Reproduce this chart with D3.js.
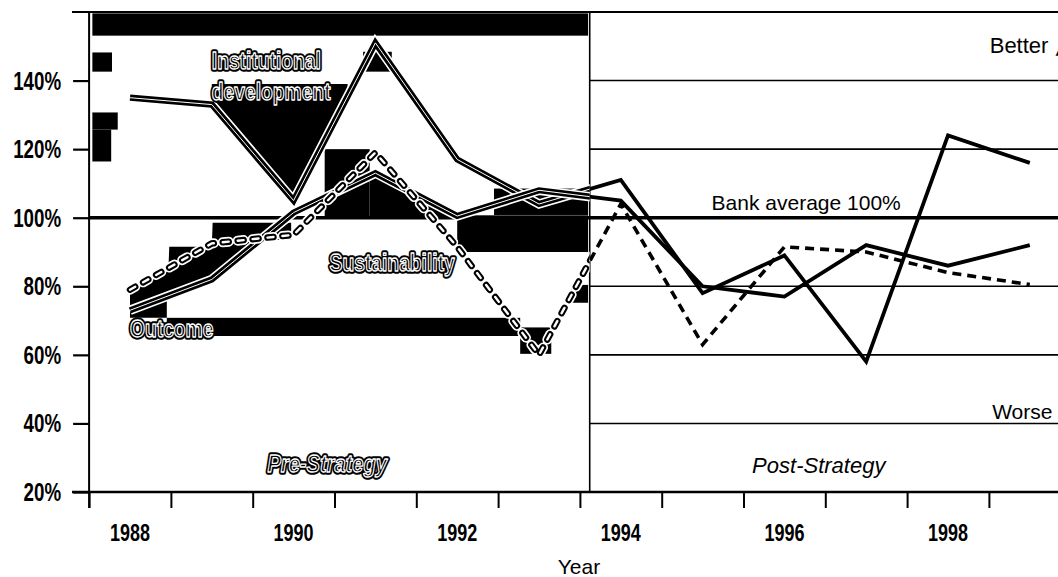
<!DOCTYPE html>
<html><head><meta charset="utf-8">
<script src="https://cdn.jsdelivr.net/npm/d3@7"></script>
<style>
html,body{margin:0;padding:0;background:#fff;}
svg{display:block;}
</style></head><body>
<svg id="chart" width="1058" height="577"></svg>
<script>
// ---------------- data ----------------
const years = [1988,1989,1990,1991,1992,1993,1994,1995,1996,1997,1998,1999];
const institutional = [135,133,105,151,117,104,111,78,89,58,124,116];
const outcome = [73,82,101.5,113,100.5,108,105,80,77,92,86,92];
const sustainability = [79,92.5,95,119,91.5,60,104,63,91.5,90,84,80.5];
const yTicks = [20,40,60,80,100,120,140];
const gridValues = [40,60,80,120,140];
const yearLabels = [1988,1990,1992,1994,1996,1998];
const yearBoundaries = [1987.5,1988.5,1989.5,1990.5,1991.5,1992.5,1993.5,1994.5,1995.5,1996.5,1997.5,1998.5];
const strategyYear = 1993.62;
const bankAverage = 100;
// scanned shading blotches of the Pre-Strategy panel: [year0, year1, pct0, pct1]
const shadeRects = [
  [1987.54,1993.6,153.1,159.6],
  [1987.54,1987.78,142.6,148.2],
  [1987.54,1987.85,125.7,130.7],
  [1987.54,1987.77,116.4,125.7],
  [1990.85,1991.2,142.6,148.4],
  [1990.38,1990.93,100.5,120],
  [1992.0,1993.6,90,100.7],
  [1992.45,1993.6,100.8,108.5],
  [1988.45,1992.77,65.5,70.8],
  [1992.77,1993.15,60.3,68],
  [1993.4,1993.6,75.2,80.4]
];

// ---------------- setup ----------------
const svg = d3.select("#chart");
const x = d3.scaleLinear().domain([1988,1999]).range([130,1029.8]);
const y = d3.scaleLinear().domain([20,160]).range([492,12]);
const W = 1058;
const xAxis0 = x(1987.5), xDiv = x(strategyYear);
const SANS = "'Liberation Sans',Arial,'DejaVu Sans',sans-serif";

function interp(series, t){
  const i = Math.max(0, Math.min(series.length-2, Math.floor(t-years[0])));
  const f = t - years[i];
  return series[i] + (series[i+1]-series[i])*f;
}
const defs = svg.append("defs");
defs.append("clipPath").attr("id","clipL").append("rect")
  .attr("x", xAxis0).attr("y", y(160)).attr("width", xDiv-xAxis0).attr("height", y(20)-y(160));
defs.append("clipPath").attr("id","clipR").append("rect")
  .attr("x", xDiv).attr("y", y(160)-5).attr("width", W-xDiv).attr("height", y(20)-y(160)+5);

// condensed text: Liberation Sans squeezed horizontally
function narrowText(parent, txt, px, py, anchor, size, opts={}){
  const sx = opts.scale || 0.82;
  const g = parent.append("g").attr("transform",`translate(${px},${py}) scale(${sx},1)`);
  const layers = opts.halo ? [{stroke:"#000", sw:5.5},{stroke:"#fff", sw:1.3}] : [null];
  layers.forEach(st=>{
    const t = g.append("text").attr("x",0).attr("y",0).attr("text-anchor",anchor)
      .attr("font-family",SANS).attr("font-weight",opts.weight||"bold").attr("font-size",size)
      .attr("font-style", opts.italic ? "italic" : "normal").attr("fill","#000").text(txt);
    if(st) t.attr("stroke",st.stroke).attr("stroke-width",st.sw).attr("stroke-linejoin","round");
  });
  return g;
}

// ---------------- shading (left panel) ----------------
const shade = svg.append("g").attr("clip-path","url(#clipL)");
shade.selectAll("rect").data(shadeRects).join("rect")
  .attr("x", d=>x(d[0])).attr("width", d=>x(d[1])-x(d[0]))
  .attr("y", d=>y(d[3])).attr("height", d=>y(d[2])-y(d[3]))
  .attr("fill","#000");

function sampled(a,b){ const s=[]; for(let t=a;t<=b+1e-9;t+=0.01) s.push(t); return s; }
const area = d3.area().x(d=>x(d.t)).y0(d=>y(d.lo)).y1(d=>y(d.hi));
shade.append("path").attr("fill","#000").attr("d",
  area(sampled(1989,1990.66).map(t=>({t, lo:interp(institutional,t), hi:139}))));
shade.append("path").attr("fill","#000").attr("d",
  area(sampled(1990.93,1992).map(t=>({t, lo:100.5, hi:interp(outcome,t)}))));
shade.append("path").attr("fill","#000").attr("d",
  area(sampled(1988,1989.97).map(t=>{
    const o = interp(outcome,t);
    const hi = t<1988.47 ? interp(sustainability,t) : (t<1989 ? 91.5 : 98.5);
    const lo = t<1989 ? o : Math.min(o,93.6);
    return {t, lo, hi:Math.max(hi,lo)};
  })));
shade.append("path").attr("fill","#000").attr("d",
  area(sampled(1988,1988.45).map(t=>({t, lo:70.8, hi:interp(outcome,t)}))));

// ---------------- grid / frame ----------------
const frame = svg.append("g");
frame.selectAll("line.grid").data(gridValues).join("line")
  .attr("x1", xDiv).attr("x2", W).attr("y1", d=>y(d)).attr("y2", d=>y(d))
  .attr("stroke","#000").attr("stroke-width",1.6);
frame.append("line").attr("x1", xAxis0).attr("x2", W)
  .attr("y1", y(bankAverage)).attr("y2", y(bankAverage))
  .attr("stroke","#000").attr("stroke-width",3.6);
frame.append("line").attr("x1", 72).attr("x2", W).attr("y1", y(160)).attr("y2", y(160))
  .attr("stroke","#000").attr("stroke-width",2);
frame.append("line").attr("x1", xDiv).attr("x2", xDiv).attr("y1", y(160)).attr("y2", y(20))
  .attr("stroke","#000").attr("stroke-width",1.6);

// ---------------- series lines ----------------
const line = d3.line().x((d,i)=>x(years[i])).y(d=>y(d));
const series = [
  {name:"institutional", values:institutional, dashed:false},
  {name:"outcome", values:outcome, dashed:false},
  {name:"sustainability", values:sustainability, dashed:true}
];
const gL = svg.append("g").attr("clip-path","url(#clipL)");
const gR = svg.append("g").attr("clip-path","url(#clipR)");
series.forEach(s=>{
  const d = line(s.values);
  if(s.dashed){
    gL.append("path").attr("d",d).attr("fill","none").attr("stroke","#fff")
      .attr("stroke-width",10).attr("stroke-dasharray","6,9").attr("stroke-linecap","round");
    gL.append("path").attr("d",d).attr("fill","none").attr("stroke","#000")
      .attr("stroke-width",6.5).attr("stroke-dasharray","6,9").attr("stroke-linecap","round");
    gL.append("path").attr("d",d).attr("fill","none").attr("stroke","#fff")
      .attr("stroke-width",2.4).attr("stroke-dasharray","6,9").attr("stroke-linecap","round");
    gR.append("path").attr("d",d).attr("fill","none").attr("stroke","#000")
      .attr("stroke-width",3.6).attr("stroke-dasharray","9,6");
  } else {
    gL.append("path").attr("d",d).attr("fill","none").attr("stroke","#fff")
      .attr("stroke-width",9.5);
    gL.append("path").attr("d",d).attr("fill","none").attr("stroke","#000")
      .attr("stroke-width",6.2);
    gL.append("path").attr("d",d).attr("fill","none").attr("stroke","#fff")
      .attr("stroke-width",1);
    gR.append("path").attr("d",d).attr("fill","none").attr("stroke","#000")
      .attr("stroke-width",3.8);
  }
});

// ---------------- axes ----------------
const yAxis = svg.append("g").attr("transform",`translate(${xAxis0},0)`)
  .call(d3.axisLeft(y).tickValues(yTicks).tickSize(16).tickFormat(""));
yAxis.select(".domain").remove();
yAxis.selectAll(".tick line").attr("stroke","#000").attr("stroke-width",2.2);
yTicks.forEach(v=>narrowText(svg, v+"%", xAxis0-28, y(v)+9, "end", 25, {scale:0.75}));
svg.append("line").attr("x1",xAxis0).attr("x2",xAxis0).attr("y1",y(160)).attr("y2",y(20)+16)
  .attr("stroke","#000").attr("stroke-width",2);

const xAxis = svg.append("g").attr("transform",`translate(0,${y(20)})`)
  .call(d3.axisBottom(x).tickValues(yearBoundaries).tickSize(16).tickFormat(""));
xAxis.select(".domain").remove();
xAxis.selectAll(".tick line").attr("stroke","#000").attr("stroke-width",2);
svg.append("line").attr("x1",72).attr("x2",W).attr("y1",y(20)).attr("y2",y(20))
  .attr("stroke","#000").attr("stroke-width",2.4);
yearLabels.forEach(v=>narrowText(svg, String(v), x(v), 541, "middle", 24, {scale:0.75}));
svg.append("text").attr("x",579).attr("y",574).attr("text-anchor","middle")
  .attr("font-family",SANS).attr("font-size",21).text("Year");

// ---------------- annotations ----------------
narrowText(svg, "Institutional", x(1989.0), y(143.5), "start", 23.5, {halo:true});
narrowText(svg, "development", x(1989.0), y(134.2), "start", 23.5, {halo:true});
narrowText(svg, "Sustainability", x(1990.44), y(84.5), "start", 23.5, {halo:true});
narrowText(svg, "Outcome", x(1988.0), y(65.3), "start", 23.5, {halo:true});
narrowText(svg, "Pre-Strategy", x(1990.41), y(25.8), "middle", 24.5, {halo:true, italic:true});

function plainText(txt, xv, yv, anchor, size, italic, arrow){
  const t = svg.append("text").attr("x",x(xv)).attr("y",y(yv)).attr("text-anchor",anchor)
    .attr("font-family",SANS).attr("font-size",size)
    .attr("font-style", italic ? "italic" : "normal").attr("fill","#000").text(txt);
  if(arrow) t.append("tspan").attr("font-family","'DejaVu Sans',sans-serif").text(" " + arrow);
  return t;
}
plainText("Post-Strategy", 1996.42, 25.5, "middle", 22, true);
plainText("Bank average 100%", 1995.11, 102.3, "start", 21, false);
plainText("Better", 1998.51, 147.9, "start", 22, false, "\u25B2");
plainText("Worse", 1998.54, 41.3, "start", 21, false, "\u25BC");
</script>
</body></html>
